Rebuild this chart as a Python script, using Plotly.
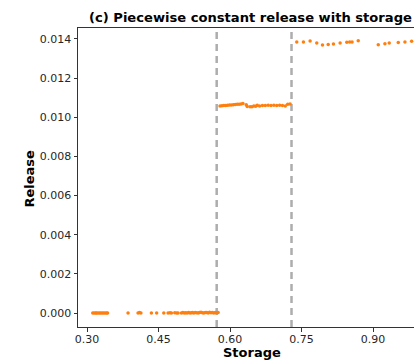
import plotly.graph_objects as go

# --- data ---
storage_low = [0.312, 0.315, 0.318, 0.320, 0.323, 0.326, 0.329, 0.332, 0.335, 0.338, 0.341, 0.343,
               0.386, 0.407, 0.410, 0.413, 0.435, 0.446, 0.461, 0.470, 0.474, 0.477, 0.484, 0.488, 0.491,
               0.498, 0.501, 0.504, 0.507, 0.510, 0.513, 0.516, 0.519, 0.521, 0.524, 0.527, 0.530,
               0.533, 0.536, 0.539, 0.542, 0.545, 0.548, 0.551, 0.554, 0.557, 0.560, 0.563, 0.566,
               0.569, 0.572, 0.575]
release_low = [0.0, 0.0, 0.0, 0.0, 0.0, 0.0, 0.0, 0.0, 0.0, 0.0, 0.0, 0.0,
               0.0, 0.0, 0.00002, 0.0, 0.0, 0.0, 0.0, 0.0, 0.00001, 0.0, 0.00001, 0.0, 0.0,
               0.0, 0.00002, 0.0, 0.00001, 0.0, 0.00003, 0.0, 0.00001, 0.00002, 0.0, 0.00003, 0.00001,
               0.0, 0.00002, 0.00004, 0.00001, 0.0, 0.00003, 0.00002, 0.0, 0.00004, 0.00001, 0.00002, 0.0,
               0.00003, 0.00001, 0.00002]

storage_mid = [0.579, 0.583, 0.587, 0.591, 0.595, 0.599, 0.603, 0.607, 0.611, 0.615, 0.619, 0.623,
               0.627, 0.634, 0.636, 0.642, 0.646, 0.650, 0.654, 0.657, 0.662, 0.668, 0.674, 0.680,
               0.686, 0.692, 0.698, 0.704, 0.710, 0.716, 0.721, 0.726]
release_mid = [0.01058, 0.01059, 0.01060, 0.01060, 0.01061, 0.01062, 0.01063, 0.01064, 0.01065, 0.01066,
               0.01067, 0.01068, 0.01070, 0.01064, 0.01055, 0.01054, 0.01054, 0.01058, 0.01056, 0.01061,
               0.01058, 0.01060, 0.01060, 0.01061, 0.01060, 0.01061, 0.01060, 0.01061, 0.01060, 0.01058,
               0.01066, 0.01068]

storage_high = [0.740, 0.754, 0.768, 0.782, 0.794, 0.806, 0.817, 0.831, 0.845, 0.851, 0.856, 0.869,
                0.911, 0.925, 0.934, 0.953, 0.967, 0.981]
release_high = [0.01385, 0.01385, 0.01390, 0.01380, 0.01369, 0.01372, 0.01374, 0.01380, 0.01383, 0.01384,
                0.01385, 0.01391, 0.01371, 0.01376, 0.01379, 0.01382, 0.01385, 0.01388]

thresholds = [0.572, 0.729]

x_ticks = [0.30, 0.45, 0.60, 0.75, 0.90]
y_ticks = [0.000, 0.002, 0.004, 0.006, 0.008, 0.010, 0.012, 0.014]

title_text = "(c) Piecewise constant release with storage"
x_label = "Storage"
y_label = "Release"

xs = storage_low + storage_mid + storage_high
ys = release_low + release_mid + release_high

fig = go.Figure()
for t in thresholds:
    fig.add_shape(type="line", xref="x", yref="paper", x0=t, x1=t, y0=0, y1=0.993,
                  line=dict(color="#adadad", width=2.5, dash="7px,5px"), layer="below")

fig.add_trace(go.Scatter(x=xs, y=ys, mode="markers",
                         marker=dict(color="#ff7f0e", size=3.5, line=dict(width=0)),
                         showlegend=False))

W, H = 414, 361
L, T, B = 78, 28, 34
PW, PH = W - L, H - T - B
label_font = dict(family="DejaVu Sans", size=13, color="black")
fig.update_layout(
    width=W, height=H,
    margin=dict(l=L, r=0, t=T, b=B, pad=0, autoexpand=False),
    paper_bgcolor="white", plot_bgcolor="white",
    font=dict(family="DejaVu Sans", size=11, color="#262626"),
    title=dict(text="<b>" + title_text + "</b>", x=89 / W, xanchor="left", xref="container",
               y=1 - 17 / H, yanchor="middle", yref="container",
               font=dict(family="DejaVu Sans", size=13.1, color="black")),
    annotations=[
        dict(text="<b>" + x_label + "</b>", xref="paper", yref="paper",
             x=(251.5 - L) / PW, y=(H - B - 361) / PH, xanchor="center", yanchor="bottom",
             showarrow=False, font=label_font, borderpad=0),
        dict(text="<b>" + y_label + "</b>", xref="paper", yref="paper", textangle=-90,
             x=(29 - L) / PW, y=(H - B - 178.5) / PH, xanchor="center", yanchor="middle",
             showarrow=False, font=label_font),
    ],
)
fig.update_xaxes(range=[0.281, 0.986], tickvals=x_ticks, tickformat=".2f", automargin=False,
                 showgrid=False, zeroline=False, showline=True, linecolor="#333333", linewidth=1,
                 mirror=True, ticks="outside", ticklen=3.5, tickcolor="#333333",
                 ticklabelstandoff=-2)
fig.update_yaxes(range=[-0.000715, 0.01456], tickvals=y_ticks, tickformat=".3f", automargin=False,
                 showgrid=False, zeroline=False, showline=True, linecolor="#333333", linewidth=1,
                 mirror=False, ticks="outside", ticklen=3.5, tickcolor="#333333")

fig.write_html("out.html")
